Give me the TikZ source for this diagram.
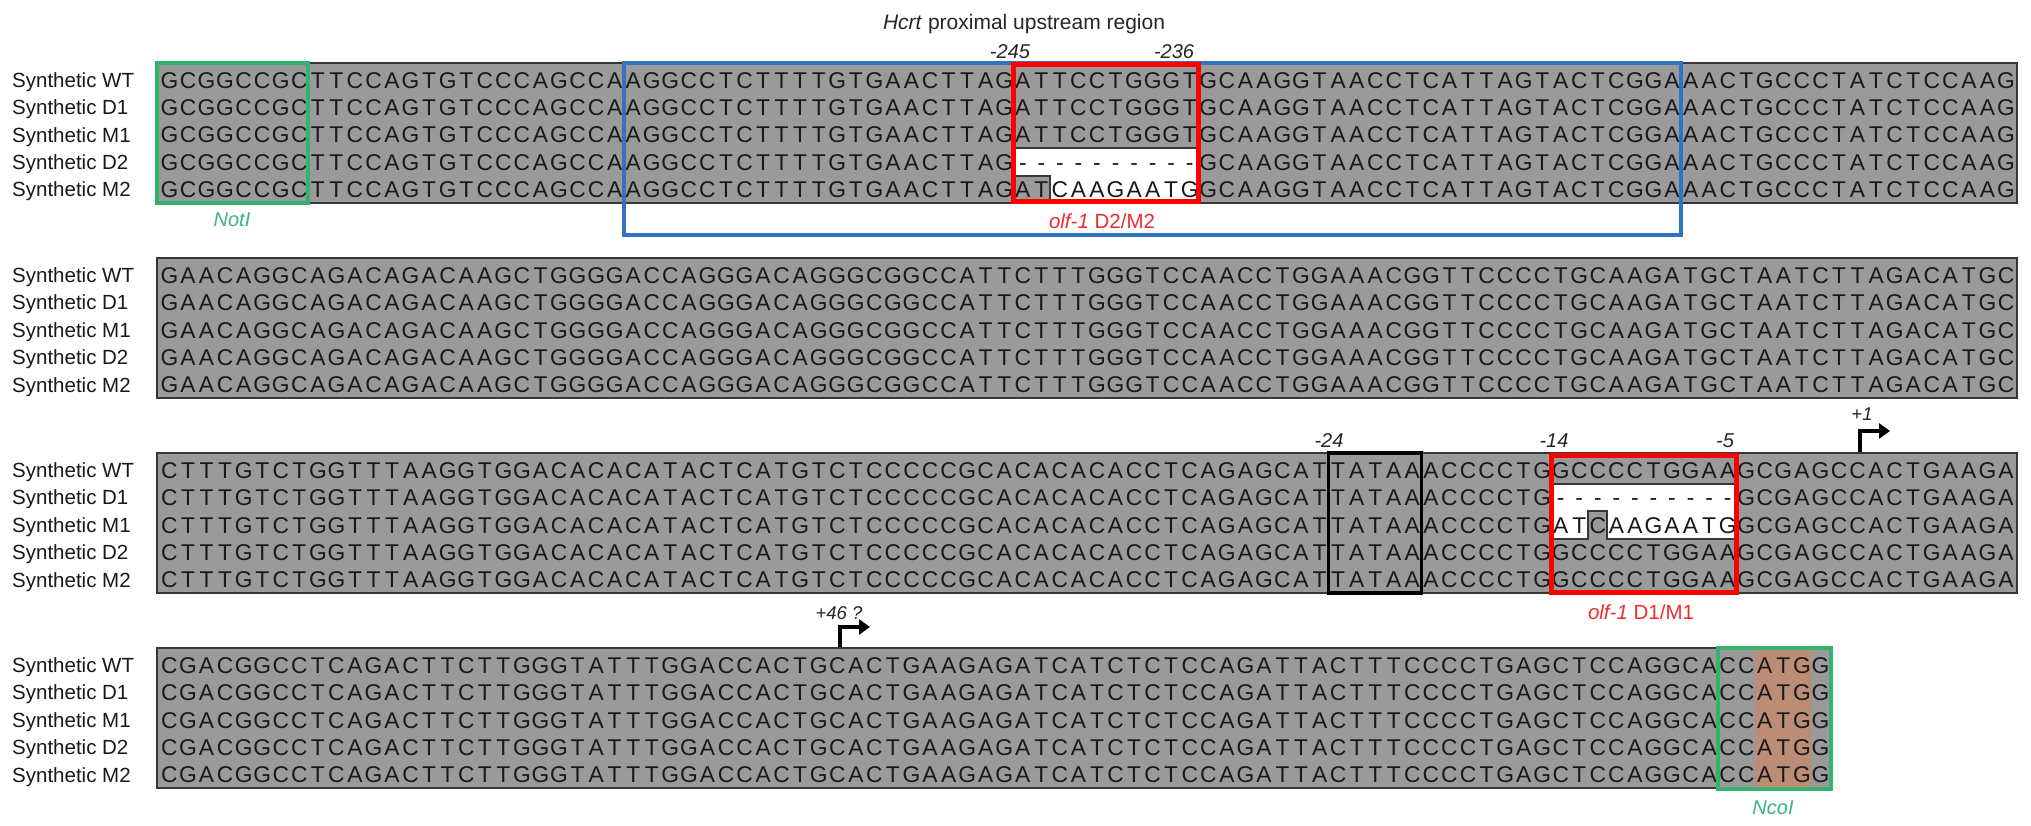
\documentclass[tikz,border=0pt]{standalone}
\usepackage{fontspec}
\setmainfont{Liberation Sans}
\usetikzlibrary{arrows.meta}
\definecolor{seqgray}{RGB}{154,154,154}
\definecolor{edgegray}{RGB}{55,55,55}
\definecolor{seqtext}{RGB}{25,25,25}
\definecolor{bluebox}{RGB}{46,117,190}
\definecolor{redbox}{RGB}{255,0,0}
\definecolor{lblred}{RGB}{240,45,45}
\definecolor{greenbox}{RGB}{52,178,110}
\definecolor{greenlbl}{RGB}{60,180,130}
\definecolor{atgfill}{RGB}{188,140,118}
\newdimen\cw \cw=18.55pt
\makeatletter
\def\spr#1{\spr@a#1\relax}
\def\spr@a#1{\ifx\relax#1\else\hbox to\cw{\hss#1\hss}\expandafter\spr@a\fi}
\makeatother
\newcommand\seqblock[7]{%
  \node[seqrow] (#1WT) at (160,#2+25.2) {\spr{#3}};
  \node[seqrow] (#1D1) at (160,#2+52.6) {\spr{#4}};
  \node[seqrow] (#1M1) at (160,#2+80.0) {\spr{#5}};
  \node[seqrow] (#1D2) at (160,#2+107.4) {\spr{#6}};
  \node[seqrow] (#1M2) at (160,#2+134.8) {\spr{#7}};
}
\begin{document}
\begin{tikzpicture}[x=1pt,y=-1pt,
  seqrow/.style={anchor=base west,inner sep=0pt,font=\fontsize{22.8}{23}\selectfont,text=seqtext},
  rowlbl/.style={anchor=base west,inner sep=0pt,font=\fontsize{20.5}{22}\selectfont,text=black!90},
  numlbl/.style={anchor=base,inner sep=0pt,font=\fontsize{20}{22}\selectfont\itshape,text=black!85},
  smalllbl/.style={anchor=base,inner sep=0pt,font=\fontsize{18.5}{20}\selectfont\itshape,text=black!85},
  redlbl/.style={anchor=base,inner sep=0pt,font=\fontsize{20.5}{22}\selectfont,text=lblred},
  greenlbl/.style={anchor=base,inner sep=0pt,font=\fontsize{20}{22}\selectfont\itshape,text=greenlbl},
  graybox/.style={fill=seqgray,draw=edgegray,line width=2.5pt},
  whitecell/.style={fill=white,draw=edgegray,line width=2pt,line join=miter},
  redframe/.style={draw=redbox,line width=5pt},
  blueframe/.style={draw=bluebox,line width=4pt},
  greenframe/.style={draw=greenbox,line width=4pt},
  blackframe/.style={draw=black,line width=3.5pt},
  tssarrow/.style={draw=black,line width=4.8pt,line join=miter,-{Triangle[length=11pt,width=15pt]}}]
\useasboundingbox[fill=white] (0,0) rectangle (2031,826);

% gray alignment boxes
\path[graybox] (157,63) rectangle (2017,203);
\path[graybox] (157,258) rectangle (2017,398);
\path[graybox] (157,453) rectangle (2017,593);
\path[graybox] (157,648) rectangle (1831,788);

% white (non-matching) cells
\path[whitecell] (1013.3,148.5) -- (1198.8,148.5) -- (1198.8,203) -- (1050.4,203) -- (1050.4,175.9) -- (1013.3,175.9) -- cycle;
\path[whitecell] (1551.25,483.7) -- (1736.75,483.7) -- (1736.75,538.5) -- (1606.9,538.5) -- (1606.9,511.1) -- (1588.35,511.1) -- (1588.35,538.5) -- (1551.25,538.5) -- cycle;

% ATG highlight
\fill[atgfill] (1755.3,649.5) rectangle (1811,786.5);

% row labels
\foreach \T/\b in {63/a,258/b,453/c,648/d}{
  \foreach \nm [count=\k from 0] in {WT,D1,M1,D2,M2}{
    \node[rowlbl] (lbl\b\nm) at (12,\T+24.4+\k*27.4) {Synthetic \nm};
  }
}

% sequences
\seqblock{a}{63}%
{GCGGCCGCTTCCAGTGTCCCAGCCAAGGCCTCTTTTGTGAACTTAGATTCCTGGGTGCAAGGTAACCTCATTAGTACTCGGAAACTGCCCTATCTCCAAG}%
{GCGGCCGCTTCCAGTGTCCCAGCCAAGGCCTCTTTTGTGAACTTAGATTCCTGGGTGCAAGGTAACCTCATTAGTACTCGGAAACTGCCCTATCTCCAAG}%
{GCGGCCGCTTCCAGTGTCCCAGCCAAGGCCTCTTTTGTGAACTTAGATTCCTGGGTGCAAGGTAACCTCATTAGTACTCGGAAACTGCCCTATCTCCAAG}%
{GCGGCCGCTTCCAGTGTCCCAGCCAAGGCCTCTTTTGTGAACTTAG----------GCAAGGTAACCTCATTAGTACTCGGAAACTGCCCTATCTCCAAG}%
{GCGGCCGCTTCCAGTGTCCCAGCCAAGGCCTCTTTTGTGAACTTAGATCAAGAATGGCAAGGTAACCTCATTAGTACTCGGAAACTGCCCTATCTCCAAG}
\seqblock{b}{258}%
{GAACAGGCAGACAGACAAGCTGGGGACCAGGGACAGGGCGGCCATTCTTTGGGTCCAACCTGGAAACGGTTCCCCTGCAAGATGCTAATCTTAGACATGC}%
{GAACAGGCAGACAGACAAGCTGGGGACCAGGGACAGGGCGGCCATTCTTTGGGTCCAACCTGGAAACGGTTCCCCTGCAAGATGCTAATCTTAGACATGC}%
{GAACAGGCAGACAGACAAGCTGGGGACCAGGGACAGGGCGGCCATTCTTTGGGTCCAACCTGGAAACGGTTCCCCTGCAAGATGCTAATCTTAGACATGC}%
{GAACAGGCAGACAGACAAGCTGGGGACCAGGGACAGGGCGGCCATTCTTTGGGTCCAACCTGGAAACGGTTCCCCTGCAAGATGCTAATCTTAGACATGC}%
{GAACAGGCAGACAGACAAGCTGGGGACCAGGGACAGGGCGGCCATTCTTTGGGTCCAACCTGGAAACGGTTCCCCTGCAAGATGCTAATCTTAGACATGC}
\seqblock{c}{453}%
{CTTTGTCTGGTTTAAGGTGGACACACATACTCATGTCTCCCCCGCACACACACCTCAGAGCATTATAAACCCCTGGCCCCTGGAAGCGAGCCACTGAAGA}%
{CTTTGTCTGGTTTAAGGTGGACACACATACTCATGTCTCCCCCGCACACACACCTCAGAGCATTATAAACCCCTG----------GCGAGCCACTGAAGA}%
{CTTTGTCTGGTTTAAGGTGGACACACATACTCATGTCTCCCCCGCACACACACCTCAGAGCATTATAAACCCCTGATCAAGAATGGCGAGCCACTGAAGA}%
{CTTTGTCTGGTTTAAGGTGGACACACATACTCATGTCTCCCCCGCACACACACCTCAGAGCATTATAAACCCCTGGCCCCTGGAAGCGAGCCACTGAAGA}%
{CTTTGTCTGGTTTAAGGTGGACACACATACTCATGTCTCCCCCGCACACACACCTCAGAGCATTATAAACCCCTGGCCCCTGGAAGCGAGCCACTGAAGA}
\seqblock{d}{648}%
{CGACGGCCTCAGACTTCTTGGGTATTTGGACCACTGCACTGAAGAGATCATCTCTCCAGATTACTTTCCCCTGAGCTCCAGGCACCATGG}%
{CGACGGCCTCAGACTTCTTGGGTATTTGGACCACTGCACTGAAGAGATCATCTCTCCAGATTACTTTCCCCTGAGCTCCAGGCACCATGG}%
{CGACGGCCTCAGACTTCTTGGGTATTTGGACCACTGCACTGAAGAGATCATCTCTCCAGATTACTTTCCCCTGAGCTCCAGGCACCATGG}%
{CGACGGCCTCAGACTTCTTGGGTATTTGGACCACTGCACTGAAGAGATCATCTCTCCAGATTACTTTCCCCTGAGCTCCAGGCACCATGG}%
{CGACGGCCTCAGACTTCTTGGGTATTTGGACCACTGCACTGAAGAGATCATCTCTCCAGATTACTTTCCCCTGAGCTCCAGGCACCATGG}

% frames
\path[greenframe] (157,63) rectangle (308.4,203);
\path[blueframe] (623.75,63) rectangle (1681.1,235);
\path[redframe] (1013.3,65) rectangle (1198.8,202);
\path[blackframe] (1328.65,453) rectangle (1421.4,593);
\path[redframe] (1551.25,455) rectangle (1736.75,592);
\path[greenframe] (1718.2,648) rectangle (1831,789);

% annotations
\node[anchor=base,inner sep=0pt,font=\fontsize{21}{22}\selectfont,text=black!85] (title) at (1024,29.5) {\textit{Hcrt} proximal upstream region};
\node[numlbl] (n245) at (1010,59) {-245};
\node[numlbl] (n236) at (1174,59) {-236};
\node[numlbl] (n24) at (1329,447) {-24};
\node[numlbl] (n14) at (1554,447) {-14};
\node[numlbl] (n5) at (1725,447) {-5};
\node[redlbl] (olf2) at (1102,229) {\textit{olf-1} D2/M2};
\node[redlbl] (olf1) at (1641,619) {\textit{olf-1} D1/M1};
\node[greenlbl] (noti) at (232,227) {NotI};
\node[greenlbl] (ncoi) at (1773,814) {NcoI};
\node[smalllbl] (p1) at (1862,420) {+1};
\node[smalllbl] (p46) at (839,619) {+46 ?};

% transcription start arrows
\coordinate (s1a) at (1860,452);
\coordinate (s1b) at (1860,431);
\coordinate (s1c) at (1890,431);
\path[tssarrow] (s1a) -- (s1b) -- (s1c);
\coordinate (s46a) at (840,647);
\coordinate (s46b) at (840,627);
\coordinate (s46c) at (870,627);
\path[tssarrow] (s46a) -- (s46b) -- (s46c);
\end{tikzpicture}
\end{document}
